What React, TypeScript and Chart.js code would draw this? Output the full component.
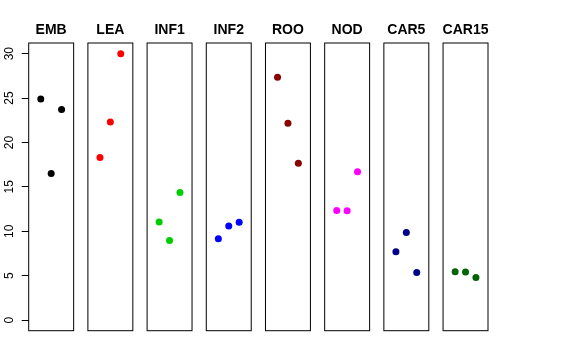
import React, { useEffect, useRef } from "react";
import { Chart, registerables } from "chart.js";

Chart.register(...registerables);

// ---- data ----
const panels = ["EMB", "LEA", "INF1", "INF2", "ROO", "NOD", "CAR5", "CAR15"];
const embValues = [24.9, 16.5, 23.7];
const leaValues = [18.3, 22.3, 30.0];
const inf1Values = [11.05, 8.95, 14.35];
const inf2Values = [9.15, 10.6, 11.0];
const rooValues = [27.35, 22.15, 17.65];
const nodValues = [12.35, 12.3, 16.7];
const car5Values = [7.7, 9.85, 5.35];
const car15Values = [5.45, 5.4, 4.8];
const panelColors = ["#000000", "#FF0000", "#00CD00", "#0000FF", "#8B0000", "#FF00FF", "#00008B", "#006400"];
const yTicks = [0, 5, 10, 15, 20, 25, 30];

const seriesValues = [embValues, leaValues, inf1Values, inf2Values, rooValues, nodValues, car5Values, car15Values];

// layout constants (positions in x-units of the shared scale)
const PERIOD = 5.69;
const PAD = 0.16;

export default function App() {
  const ref = useRef<HTMLCanvasElement | null>(null);

  useEffect(() => {
    if (!ref.current) return;
    const datasets = seriesValues.map((vals, i) => ({
      label: panels[i],
      data: vals.map((v, j) => ({ x: i * PERIOD + j + 1, y: v })),
      backgroundColor: panelColors[i],
      borderColor: panelColors[i],
      pointRadius: 3.5,
      pointBorderWidth: 0,
      showLine: false,
    }));

    const panelPlugin = {
      id: "panels",
      beforeDatasetsDraw(chart: any) {
        const ctx = chart.ctx;
        const xs = chart.scales.x;
        const ys = chart.scales.y;
        const top = chart.chartArea.top;
        const bottom = chart.chartArea.bottom;
        ctx.save();
        ctx.strokeStyle = "#000";
        ctx.lineWidth = 1;
        panels.forEach((name, i) => {
          const l = xs.getPixelForValue(i * PERIOD - PAD);
          const r = xs.getPixelForValue(i * PERIOD + 4 + PAD);
          ctx.strokeRect(l, top, r - l, bottom - top);
          ctx.fillStyle = "#000";
          ctx.font = "bold 14px 'Liberation Sans', Arial, sans-serif";
          ctx.textAlign = "center";
          ctx.textBaseline = "alphabetic";
          ctx.fillText(name, (l + r) / 2, 34);
        });
        // y tick labels (rotated)
        ctx.font = "12px 'Liberation Sans', Arial, sans-serif";
        ctx.textAlign = "center";
        ctx.textBaseline = "alphabetic";
        yTicks.forEach((t) => {
          const y = ys.getPixelForValue(t);
          ctx.save();
          ctx.translate(13.3, y);
          ctx.rotate(-Math.PI / 2);
          ctx.fillText(String(t), 0, 0);
          ctx.restore();
        });
        ctx.restore();
      },
    };

    const chart = new Chart(ref.current, {
      type: "scatter",
      data: { datasets },
      options: {
        animation: false,
        responsive: false,
        layout: { padding: { left: 0, top: 43, right: 88, bottom: 29.3 } },
        plugins: { legend: { display: false }, tooltip: { enabled: false }, title: { display: false } },
        scales: {
          x: {
            type: "linear",
            display: false,
            min: -PAD,
            max: 7 * PERIOD + 4 + PAD,
          },
          y: {
            type: "linear",
            min: -1.2,
            max: 31.2,
            afterFit(scale: any) {
              scale.width = 28.7;
            },
            afterBuildTicks(scale: any) {
              scale.ticks = yTicks.map((v) => ({ value: v }));
            },
            border: { display: false },
            grid: {
              drawOnChartArea: false,
              drawTicks: true,
              tickLength: 7,
              color: "#000",
              lineWidth: 1,
            },
            ticks: { display: false },
          },
        },
      },
      plugins: [panelPlugin],
    });
    return () => chart.destroy();
  }, []);

  return (
    <div style={{ position: "fixed", left: 0, top: 0, width: 576, height: 360, background: "#fff" }}>
      <canvas ref={ref} width={576} height={360} style={{ width: 576, height: 360 }} />
    </div>
  );
}
